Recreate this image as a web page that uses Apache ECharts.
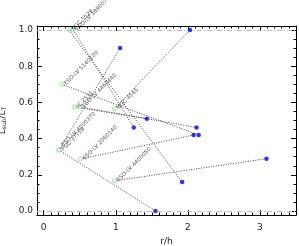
<!DOCTYPE html>
<html><head><meta charset="utf-8">
<script src="https://cdn.jsdelivr.net/npm/echarts@6/dist/echarts.min.js"></script>
<style>html,body{margin:0;padding:0;background:#fff}#c{width:299px;height:246px}</style>
</head><body><div id="c"></div>
<script>
const galaxyNames = ['NGC 5529','ESO-LV 1890070','ESO-LV 5140100','IC 2531','ESO-LV 4460440','NGC 4565','PGC 37759','ESO-LV 4000370','ESO-LV 2060140','ESO-LV 4400050'];
const rStart = [0.35,0.41,0.25,0.42,0.50,0.98,0.21,0.21,0.51,0.98];
const lStart = [1.0,1.0,0.70,0.575,0.575,0.565,0.337,0.337,0.287,0.167];
const rEnd = [1.92,1.25,2.15,1.43,2.12,2.03,1.06,1.55,2.08,3.09];
const lEnd = [0.16,0.462,0.42,0.51,0.462,1.0,0.90,0.0,0.42,0.289];
const xTickLabels = [0,1,2,3];
const yTickLabels = [0,0.2,0.4,0.6,0.8,1.0];
const refLevels = [0,1];

const XMIN=-0.093, XMAX=3.5, YMIN=-0.022, YMAX=1.022;
const xMinor=[]; for(let i=-0;i<=35;i++){xMinor.push(+(i*0.1).toFixed(2));}
const yMinor=[]; for(let i=0;i<=20;i++){yMinor.push(+(i*0.05).toFixed(2));}
const font='DejaVu Sans';
function xAx(pos, vals, len, labels, line){
  return {type:'value',min:XMIN,max:XMAX,position:pos,
    axisLine:{show:line,onZero:false,lineStyle:{color:'#000',width:1}},
    splitLine:{show:false},
    axisTick:{show:true,inside:true,length:len,customValues:vals,lineStyle:{color:'#000',width:1}},
    axisLabel:labels?{show:true,customValues:xTickLabels,formatter:v=>String(v),fontSize:9,fontFamily:font,color:'#222',margin:8}:{show:false}};
}
function yAx(pos, vals, len, labels, line){
  return {type:'value',min:YMIN,max:YMAX,position:pos,
    axisLine:{show:line,onZero:false,lineStyle:{color:'#000',width:1}},
    splitLine:{show:false},
    axisTick:{show:true,inside:true,length:len,customValues:vals,lineStyle:{color:'#000',width:1}},
    axisLabel:labels?{show:true,customValues:yTickLabels,formatter:v=>v.toFixed(1),fontSize:9,fontFamily:font,color:'#222',margin:4}:{show:false}};
}
const xAxes=[xAx('bottom',xTickLabels,5,true,true),xAx('bottom',xMinor,2.5,false,false),xAx('top',xTickLabels,5,false,true),xAx('top',xMinor,2.5,false,false)];
const yAxes=[yAx('left',yTickLabels,5,true,true),yAx('left',yMinor,2.5,false,false),yAx('right',yTickLabels,5,false,true),yAx('right',yMinor,2.5,false,false)];
Object.assign(xAxes[0],{name:'r/h',nameLocation:'middle',nameGap:19,nameTextStyle:{fontSize:9,fontFamily:font,color:'#222'}});
Object.assign(yAxes[0],{name:'{a|L}{s|sub}{a|/L}{s|T}',nameLocation:'middle',nameGap:22,nameRotate:90,
  nameTextStyle:{fontSize:9,fontFamily:font,color:'#222',rich:{a:{fontSize:9,fontFamily:font,color:'#222'},s:{fontSize:6,fontFamily:font,color:'#222',verticalAlign:'bottom',padding:[4,0,0,0]}}}});

const series=[];
for(let i=0;i<galaxyNames.length;i++){
  series.push({type:'line',silent:true,symbol:'none',data:[[rStart[i],lStart[i]],[rEnd[i],lEnd[i]]],
    lineStyle:{type:[1,1.5],color:'#444',width:1},z:2});
}
series.push({type:'line',silent:true,symbol:'none',data:[],
  markLine:{silent:true,symbol:'none',label:{show:false},lineStyle:{type:[5,2,1,2],color:'#bbb',width:1},
    data:refLevels.map(v=>({yAxis:v}))},z:1});
series.push({type:'scatter',symbol:'circle',symbolSize:4,
  data:rStart.map((x,i)=>({value:[x,lStart[i]],label:{offset:i===7?[3,-3]:[0,0]}})),
  itemStyle:{color:'#fff',borderColor:'#8d8',borderWidth:1},z:4,
  label:{show:true,position:'right',distance:1,rotate:45,fontSize:5.5,fontFamily:font,color:'#222',
    formatter:p=>galaxyNames[p.dataIndex]}});
series.push({type:'scatter',symbol:'circle',symbolSize:4.5,
  data:rEnd.map((x,i)=>[x,lEnd[i]]),itemStyle:{color:'#0000ff'},z:5});

const chart=echarts.init(document.getElementById('c'),null,{renderer:'canvas'});
chart.setOption({animation:false,backgroundColor:'#fff',
  grid:{left:37,right:3,top:26,bottom:31,containLabel:false,outerBoundsMode:'none'},
  xAxis:xAxes,yAxis:yAxes,series});
</script></body></html>
